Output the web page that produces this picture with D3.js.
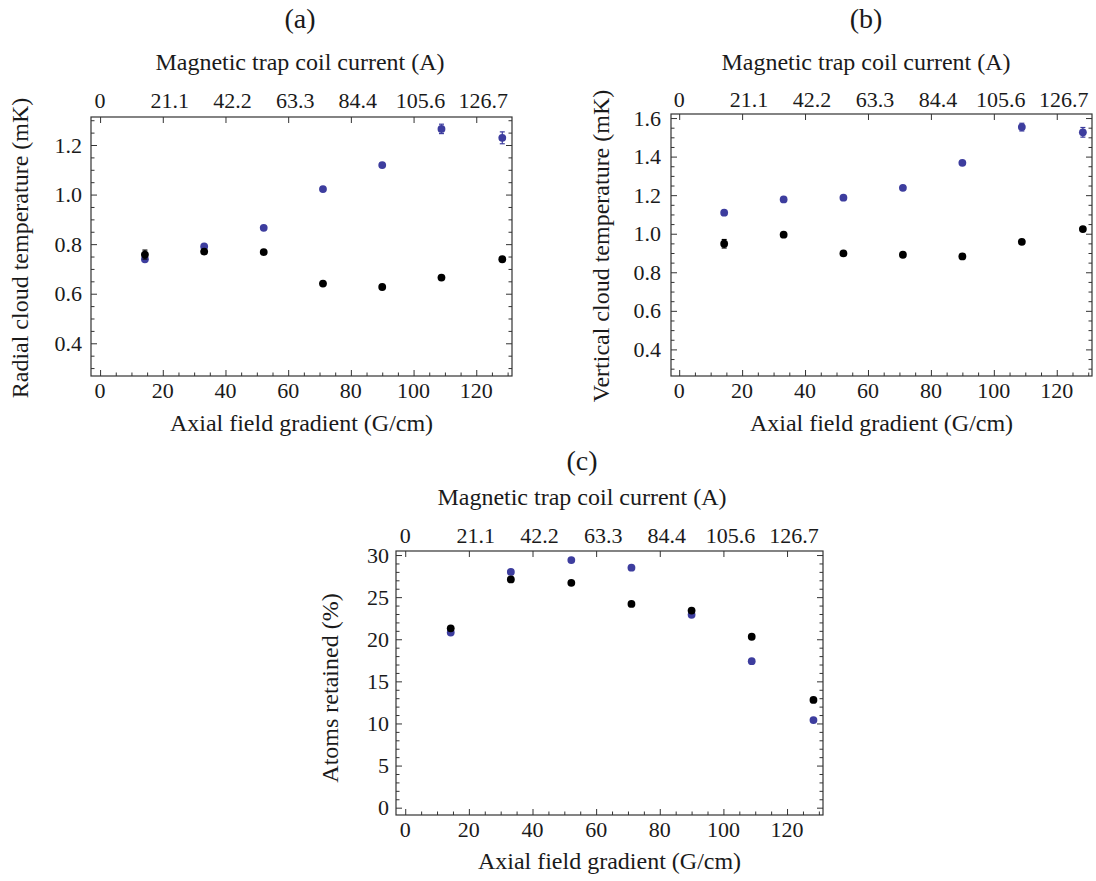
<!DOCTYPE html>
<html>
<head>
<meta charset="utf-8">
<script src="https://cdn.jsdelivr.net/npm/d3@7"></script>
<style>
  html, body { margin: 0; padding: 0; background: #fff; }
  svg text { font-family: "Liberation Serif", "DejaVu Serif", serif; fill: #1a1a1a; }
</style>
</head>
<body>
<svg id="fig" width="1096" height="881"></svg>
<script>
// Axial field gradient (G/cm) at each measurement
const gradient = [14.3, 33.2, 52.2, 71.1, 90.0, 108.9, 128.3];

// Top-axis labels: coil current (A) matching gradient ticks 0, 20, ..., 120
const gradientTicks = [0, 20, 40, 60, 80, 100, 120];
const currentLabels = ["0", "21.1", "42.2", "63.3", "84.4", "105.6", "126.7"];

// (a) radial cloud temperature (mK)
const radialBlue = [0.739, 0.791, 0.866, 1.022, 1.119, 1.265, 1.229];
const radialBlueErr = [0.008, 0.006, 0.006, 0.006, 0.008, 0.019, 0.024];
const radialBlack = [0.758, 0.770, 0.768, 0.641, 0.627, 0.665, 0.739];
const radialBlackErr = [0.018, 0.006, 0.006, 0.005, 0.005, 0.006, 0.006];

// (b) vertical cloud temperature (mK)
const verticalBlue = [1.109, 1.178, 1.187, 1.238, 1.368, 1.553, 1.526];
const verticalBlueErr = [0.008, 0.008, 0.008, 0.008, 0.01, 0.02, 0.025];
const verticalBlack = [0.948, 0.995, 0.898, 0.891, 0.882, 0.958, 1.024];
const verticalBlackErr = [0.022, 0.008, 0.006, 0.006, 0.006, 0.008, 0.008];

// (c) atoms retained (%)
const atomsBlue = [20.8, 28.0, 29.4, 28.5, 22.9, 17.4, 10.4];
const atomsBlack = [21.3, 27.1, 26.7, 24.2, 23.4, 20.3, 12.8];

const BLUE = "#3d3d9e";
const BLACK = "#000";
const FRAME = "#333";
const TICK_FONT = 22;
const TITLE_FONT = 24;
const PANEL_FONT = 28;

const svg = d3.select("#fig");

function drawPanel(cfg) {
  const { left, right, top, bottom } = cfg.box;
  const g = svg.append("g");

  const x = d3.scaleLinear().domain(cfg.xDomain).range([left, right]);
  const y = d3.scaleLinear().domain(cfg.yDomain).range([bottom, top]);

  // Minor/major tick values (ticks point inward)
  const xMajor = gradientTicks;
  const xMinor = d3.range(0, 131, 5).filter(v => v % 20 !== 0);
  const yMajor = cfg.yMajor;
  const yMinor = cfg.yMinor.filter(v => v >= cfg.yDomain[0] && v <= cfg.yDomain[1]);

  const bottomAxis = d3.axisBottom(x).tickValues(xMajor).tickSize(-6).tickFormat("");
  const bottomMinor = d3.axisBottom(x).tickValues(xMinor).tickSize(-3.5).tickFormat("");
  const topAxis = d3.axisTop(x).tickValues(xMajor).tickSize(-6).tickFormat("");
  const leftAxis = d3.axisLeft(y).tickValues(yMajor).tickSize(-6).tickFormat("");
  const leftMinor = d3.axisLeft(y).tickValues(yMinor).tickSize(-3.5).tickFormat("");
  const rightAxis = d3.axisRight(y).tickValues(yMajor).tickSize(-6).tickFormat("");
  const rightMinor = d3.axisRight(y).tickValues(yMinor).tickSize(-3.5).tickFormat("");

  const axes = [
    [bottomAxis, `translate(0,${bottom})`],
    [bottomMinor, `translate(0,${bottom})`],
    [topAxis, `translate(0,${top})`],
    [leftAxis, `translate(${left},0)`],
    [leftMinor, `translate(${left},0)`],
    [rightAxis, `translate(${right},0)`],
    [rightMinor, `translate(${right},0)`]
  ];
  axes.forEach(([ax, tr]) => {
    const a = g.append("g").attr("transform", tr).call(ax);
    a.select(".domain").remove();
    a.selectAll("line").attr("stroke", FRAME).attr("stroke-width", 1);
  });

  // Frame
  g.append("rect")
    .attr("x", left).attr("y", top)
    .attr("width", right - left).attr("height", bottom - top)
    .attr("fill", "none").attr("stroke", FRAME).attr("stroke-width", 1.2);

  // Tick labels
  g.selectAll(".xlab").data(xMajor).join("text")
    .attr("x", d => x(d)).attr("y", bottom + 22)
    .attr("text-anchor", "middle").attr("font-size", TICK_FONT)
    .text(d => d);
  g.selectAll(".toplab").data(xMajor).join("text")
    .attr("x", (d, i) => x(d) + (i === 0 ? 0 : 7)).attr("y", top - cfg.topLabelGap)
    .attr("text-anchor", "middle").attr("font-size", TICK_FONT)
    .text((d, i) => currentLabels[i]);
  g.selectAll(".ylab").data(yMajor).join("text")
    .attr("x", left - cfg.yLabelGap).attr("y", d => y(d) + 7.5)
    .attr("text-anchor", "end").attr("font-size", TICK_FONT)
    .text(d => cfg.yFormat(d));

  // Titles
  g.append("text").attr("x", cfg.centerX).attr("y", cfg.panelY)
    .attr("text-anchor", "middle").attr("font-size", PANEL_FONT).text(cfg.panel);
  g.append("text").attr("x", cfg.centerX).attr("y", cfg.topTitleY)
    .attr("text-anchor", "middle").attr("font-size", TITLE_FONT).text("Magnetic trap coil current (A)");
  g.append("text").attr("x", (left + right) / 2).attr("y", cfg.bottomTitleY)
    .attr("text-anchor", "middle").attr("font-size", TITLE_FONT).text("Axial field gradient (G/cm)");
  g.append("text")
    .attr("transform", `translate(${cfg.yTitleX},${cfg.yTitleY}) rotate(-90)`)
    .attr("text-anchor", "middle").attr("font-size", TITLE_FONT).text(cfg.yTitle);

  // Data: error bars then points, blue series first, black on top
  cfg.series.forEach(s => {
    const pts = gradient.map((gv, i) => ({ gx: gv, v: s.values[i], e: s.errors ? s.errors[i] : 0 }));
    const eb = g.append("g").attr("stroke", s.color).attr("stroke-width", 1.2);
    pts.filter(p => p.e > 0).forEach(p => {
      const cx = x(p.gx);
      eb.append("line").attr("x1", cx).attr("x2", cx).attr("y1", y(p.v - p.e)).attr("y2", y(p.v + p.e));
      eb.append("line").attr("x1", cx - 2.5).attr("x2", cx + 2.5).attr("y1", y(p.v - p.e)).attr("y2", y(p.v - p.e));
      eb.append("line").attr("x1", cx - 2.5).attr("x2", cx + 2.5).attr("y1", y(p.v + p.e)).attr("y2", y(p.v + p.e));
    });
    g.append("g").selectAll("circle").data(pts).join("circle")
      .attr("cx", p => x(p.gx)).attr("cy", p => y(p.v))
      .attr("r", 3.9).attr("fill", s.color);
  });
}

const fmt1 = d3.format(".1f");

drawPanel({
  panel: "(a)", centerX: 300, panelY: 28, topTitleY: 70, topLabelGap: 9, bottomTitleY: 431,
  box: { left: 91, right: 512, top: 117, bottom: 376 },
  xDomain: [-2.9, 131.4], yDomain: [0.268, 1.313],
  yMajor: [0.4, 0.6, 0.8, 1.0, 1.2], yMinor: d3.range(0.25, 1.32, 0.05).map(v => +v.toFixed(2)).filter(v => Math.round(v * 100) % 20 !== 0),
  yFormat: fmt1, yLabelGap: 9,
  yTitle: "Radial cloud temperature (mK)", yTitleX: 28, yTitleY: 248,
  series: [
    { values: radialBlue, errors: radialBlueErr, color: BLUE },
    { values: radialBlack, errors: radialBlackErr, color: BLACK }
  ]
});

drawPanel({
  panel: "(b)", centerX: 866, panelY: 28, topTitleY: 70, topLabelGap: 7, bottomTitleY: 431,
  box: { left: 671, right: 1092, top: 114, bottom: 376 },
  xDomain: [-2.6, 131.2], yDomain: [0.262, 1.621],
  yMajor: [0.4, 0.6, 0.8, 1.0, 1.2, 1.4, 1.6], yMinor: d3.range(0.25, 1.65, 0.05).map(v => +v.toFixed(2)).filter(v => Math.round(v * 100) % 20 !== 0),
  yFormat: fmt1, yLabelGap: 10,
  yTitle: "Vertical cloud temperature (mK)", yTitleX: 609, yTitleY: 246,
  series: [
    { values: verticalBlue, errors: verticalBlueErr, color: BLUE },
    { values: verticalBlack, errors: verticalBlackErr, color: BLACK }
  ]
});

drawPanel({
  panel: "(c)", centerX: 582, panelY: 470, topTitleY: 505, topLabelGap: 8, bottomTitleY: 869,
  box: { left: 396, right: 823, top: 551, bottom: 815 },
  xDomain: [-2.9, 131.3], yDomain: [-0.87, 30.48],
  yMajor: [0, 5, 10, 15, 20, 25, 30], yMinor: d3.range(0, 31, 1).filter(v => v % 5 !== 0),
  yFormat: d => d, yLabelGap: 7,
  yTitle: "Atoms retained (%)", yTitleX: 338, yTitleY: 688,
  series: [
    { values: atomsBlue, color: BLUE },
    { values: atomsBlack, color: BLACK }
  ]
});
</script>
</body>
</html>
